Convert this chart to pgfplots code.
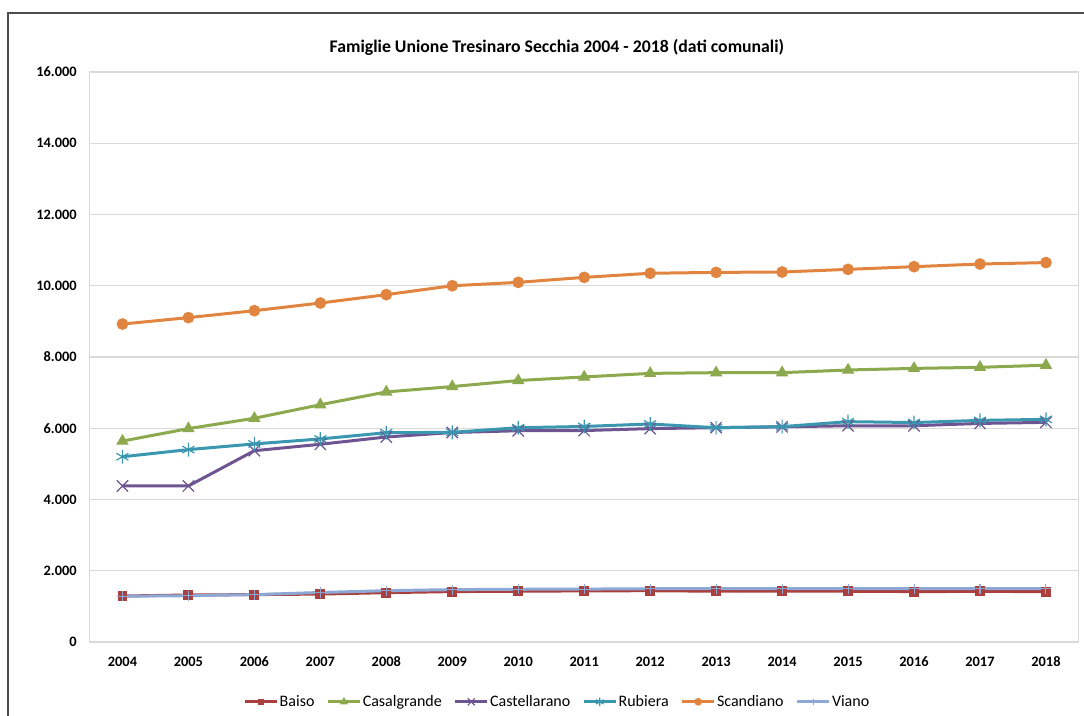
\documentclass[border=0pt]{standalone}
\usepackage{fontspec}
\setmainfont{Carlito}
\usepackage{pgfplots}
\pgfplotsset{compat=1.18}

\definecolor{cBaiso}{HTML}{A9403D}
\definecolor{cCasal}{HTML}{8CA94D}
\definecolor{cCast}{HTML}{6E5491}
\definecolor{cRub}{HTML}{3B96B0}
\definecolor{cScand}{HTML}{E0843F}
\definecolor{cViano}{HTML}{8EA8D6}
\definecolor{grid}{HTML}{D9D9D9}

\newcommand{\chartfont}{\fontsize{10.8}{13}\selectfont}

\begin{document}
\begin{tikzpicture}[x=1pt,y=1pt]
\useasboundingbox (-67.1,-55.5) rectangle (745.9,481.5);
% outer chart frame (only left and top edges visible)
\draw[color=black!70, line width=1.1pt] (-61.1,-70) -- (-61.1,471.75) -- (760,471.75);
\node[font=\fontsize{13.3}{16}\selectfont\bfseries] at (350.6,446.25) {Famiglie Unione Tresinaro Secchia 2004 - 2018 (dati comunali)};

\begin{axis}[
  scale only axis,
  width=742.1pt,
  height=427.5pt,
  xmin=2003.5, xmax=2018.5,
  ymin=0, ymax=16000,
  xtick={2004,2005,...,2018},
  ytick={0,2000,...,16000},
  scaled y ticks=false,
  major tick length=0pt,
  axis line style={draw=grid, line width=0.8pt},
  ymajorgrids,
  grid style={draw=grid, line width=0.8pt},
  tick label style={font=\chartfont\bfseries, inner sep=0pt},
  /pgf/number format/assume math mode=true,
  xticklabel style={anchor=center, yshift=-15pt, /pgf/number format/1000 sep={}},
  yticklabel style={anchor=east, xshift=-9.4pt, /pgf/number format/1000 sep={.}},
  legend columns=-1,
  legend style={at={(0.4725,-0.105)}, anchor=center, draw=none, fill=none,
    font=\fontsize{12}{14}\selectfont, nodes={inner sep=1pt},
    /tikz/every even column/.append style={column sep=8pt}},
  legend image code/.code={
    \draw[mark repeat=2, mark phase=2, every mark/.append style={scale=0.62}]
      plot coordinates {(0pt,0pt) (12pt,0pt) (24pt,0pt)};},
  every axis plot/.append style={line width=2.25pt},
]
\addplot[color=cBaiso, mark=square*, mark size=3.3pt, mark options={line width=0.8pt}] coordinates {
  (2004,1290) (2005,1320) (2006,1330) (2007,1345) (2008,1385) (2009,1415) (2010,1425)
  (2011,1435) (2012,1440) (2013,1425) (2014,1430) (2015,1425) (2016,1415) (2017,1420) (2018,1415)
};
\addlegendentry{Baiso}
\addplot[color=cCasal, mark=triangle*, mark size=4.6pt, mark options={line width=0.8pt}] coordinates {
  (2004,5640) (2005,5990) (2006,6280) (2007,6660) (2008,7020) (2009,7170) (2010,7340)
  (2011,7440) (2012,7540) (2013,7560) (2014,7560) (2015,7635) (2016,7680) (2017,7710) (2018,7770)
};
\addlegendentry{Casalgrande}
\addplot[color=cCast, mark=x, mark size=6pt, mark options={line width=0.9pt}] coordinates {
  (2004,4380) (2005,4380) (2006,5370) (2007,5550) (2008,5755) (2009,5880) (2010,5930)
  (2011,5935) (2012,5990) (2013,6015) (2014,6040) (2015,6070) (2016,6070) (2017,6135) (2018,6165)
};
\addlegendentry{Castellarano}
\addplot[color=cRub, mark=asterisk, mark size=5.2pt, mark options={line width=0.9pt}] coordinates {
  (2004,5200) (2005,5400) (2006,5560) (2007,5700) (2008,5875) (2009,5885) (2010,6015)
  (2011,6050) (2012,6120) (2013,6015) (2014,6045) (2015,6185) (2016,6160) (2017,6220) (2018,6250)
};
\addlegendentry{Rubiera}
\addplot[color=cScand, mark=*, mark size=4.1pt, mark options={line width=0.6pt}] coordinates {
  (2004,8925) (2005,9105) (2006,9300) (2007,9515) (2008,9750) (2009,10000) (2010,10095)
  (2011,10235) (2012,10350) (2013,10375) (2014,10385) (2015,10460) (2016,10535) (2017,10610) (2018,10650)
};
\addlegendentry{Scandiano}
\addplot[color=cViano, mark=+, mark size=3.8pt, mark options={line width=0.8pt}] coordinates {
  (2004,1285) (2005,1300) (2006,1330) (2007,1390) (2008,1440) (2009,1470) (2010,1480)
  (2011,1485) (2012,1495) (2013,1495) (2014,1495) (2015,1495) (2016,1495) (2017,1495) (2018,1495)
};
\addlegendentry{Viano}
\end{axis}
\end{tikzpicture}
\end{document}
